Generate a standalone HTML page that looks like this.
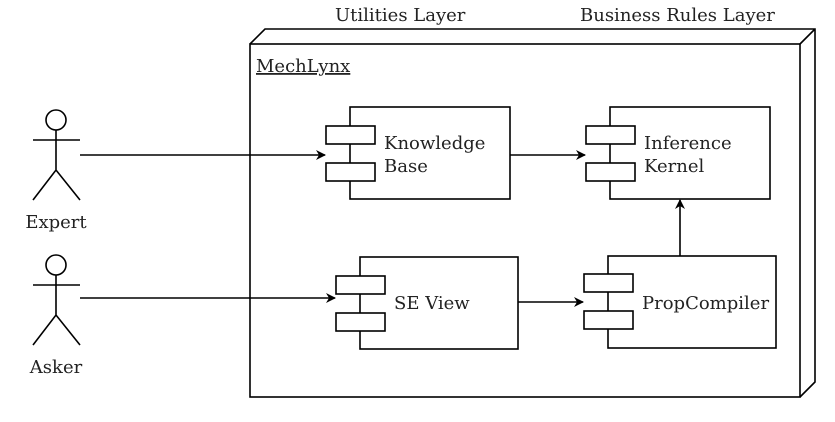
<!DOCTYPE html>
<html><head><meta charset="utf-8"><style>
body{margin:0;background:#fff}
svg text{font-family:"DejaVu Serif","Liberation Serif",serif;font-size:18px;fill:#222}
</style></head><body>
<svg width="835" height="417" viewBox="0 0 835 417" xmlns="http://www.w3.org/2000/svg">
<defs><marker id="a" markerWidth="10" markerHeight="10" refX="9" refY="5" orient="auto" markerUnits="userSpaceOnUse"><path d="M0,0 L10,5 L0,10 L3,5 Z" fill="#000"/></marker></defs>
<g fill="none" stroke="#000" stroke-width="1.6">
<path d="M250,44 L265,29 L815,29 L815,382 L800,397 M800,44 L815,29"/>
<rect x="250" y="44" width="550" height="353" fill="#fff"/>
<rect x="350" y="107" width="160" height="92"/>
<rect x="326" y="126" width="49" height="18" fill="#fff"/>
<rect x="326" y="163" width="49" height="18" fill="#fff"/>
<rect x="610" y="107" width="160" height="92"/>
<rect x="586" y="126" width="49" height="18" fill="#fff"/>
<rect x="586" y="163" width="49" height="18" fill="#fff"/>
<rect x="360" y="257" width="158" height="92"/>
<rect x="336" y="276" width="49" height="18" fill="#fff"/>
<rect x="336" y="313" width="49" height="18" fill="#fff"/>
<rect x="608" y="256" width="168" height="92"/>
<rect x="584" y="274" width="49" height="18" fill="#fff"/>
<rect x="584" y="311" width="49" height="18" fill="#fff"/>
<line x1="80" y1="155" x2="325" y2="155" marker-end="url(#a)"/>
<line x1="510" y1="155" x2="585" y2="155" marker-end="url(#a)"/>
<line x1="80" y1="298" x2="335" y2="298" marker-end="url(#a)"/>
<line x1="518" y1="302" x2="583" y2="302" marker-end="url(#a)"/>
<line x1="680" y1="256" x2="680" y2="200" marker-end="url(#a)"/>
<circle cx="56" cy="120" r="10"/>
<path d="M56,130 V170 M33,140 H80 M33,200 L56,170 L80,200"/>
<circle cx="56" cy="265" r="10"/>
<path d="M56,275 V315 M33,285 H80 M33,345 L56,315 L80,345"/>
</g>
<text x="335" y="21">Utilities Layer</text>
<text x="580" y="21">Business Rules Layer</text>
<text x="256" y="72" text-decoration="underline">MechLynx</text>
<text x="384" y="149">Knowledge</text>
<text x="384" y="172">Base</text>
<text x="644" y="149">Inference</text>
<text x="644" y="172">Kernel</text>
<text x="394" y="309">SE View</text>
<text x="642" y="309">PropCompiler</text>
<text x="56" y="228" text-anchor="middle">Expert</text>
<text x="56" y="373" text-anchor="middle">Asker</text>
</svg>
</body></html>
